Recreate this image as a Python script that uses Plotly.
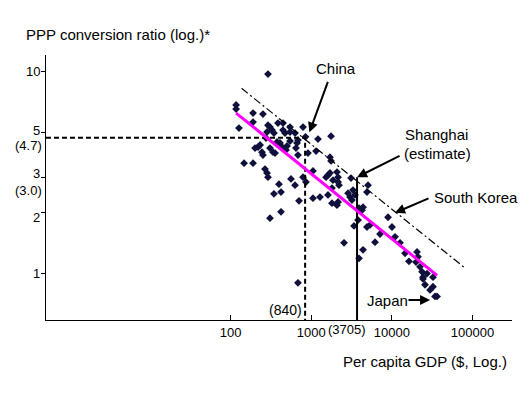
import math
import plotly.graph_objects as go

# ---- data ----
gdp = [117, 117, 190, 252, 127, 190, 291, 308, 387, 447, 546, 791, 447, 473, 546, 283, 327, 345, 630, 275,
       377, 410, 546, 685, 501, 667, 850, 1214, 1762, 201, 219, 232, 245, 252, 308, 336, 356, 410, 447, 486,
       647, 685, 912, 1148, 1710, 1762, 147, 190, 267, 283, 291, 561, 630, 398, 345, 422, 706, 308, 422, 685,
       791, 861, 1052, 1528, 1615, 1710, 2089, 2153, 2153, 2213, 1862, 1811, 1615, 1052, 1285, 1811, 2089, 2153,
       2864, 3030, 3206, 3300, 3491, 3119, 5070, 4920, 4395, 4266, 3917, 3397, 3811, 4920, 5370, 2553, 4395,
       3917, 6194, 7145, 8974, 10050, 10960, 12650, 14590, 16330, 20560, 21130, 19950, 22390, 23710, 24380,
       24380, 27350, 32430, 25820, 29790, 32430, 34360, 36390, 291]
ppp = [6.83, 6.52, 6.23, 6.16, 5.25, 5.62, 5.43, 5.31, 5.56, 5.56, 5.31, 5.31, 5.13, 4.96, 5.02, 5.02, 5.13,
       4.96, 4.96, 4.69, 4.48, 4.43, 4.53, 4.58, 4.28, 4.43, 4.75, 4.63, 4.79, 4.18, 4.23, 4.33, 3.99, 3.86,
       4.18, 3.99, 3.95, 4.33, 4.18, 4.09, 4.18, 3.86, 3.95, 4.04, 3.77, 3.61, 3.52, 3.52, 3.29, 3.15, 3.00,
       2.94, 2.74, 2.77, 2.48, 2.53, 2.29, 1.88, 2.02, 0.90, 3.00, 2.84, 3.22, 3.00, 3.07, 3.15, 3.18, 3.00,
       2.84, 2.74, 2.90, 2.65, 2.45, 2.36, 2.39, 2.23, 2.18, 2.26, 2.50, 2.39, 2.31, 2.59, 2.45, 2.97, 2.74,
       2.53, 2.13, 2.06, 2.11, 1.72, 1.84, 1.70, 1.74, 1.42, 1.31, 1.19, 1.43, 1.57, 1.90, 1.70, 1.52, 1.42,
       1.26, 1.15, 1.28, 1.21, 1.14, 1.08, 1.02, 0.96, 0.94, 1.00, 0.96, 0.88, 0.83, 0.86, 0.77, 0.77, 9.72]

fit_x = [117, 36400]
fit_y = [6.23, 0.98]
upper_x = [137, 80900]
upper_y = [8.26, 1.065]

china_gdp, china_ppp = 840, 4.7
shanghai_gdp, shanghai_ppp = 3705, 3.0

x_tickvals = [100, 1000, 10000, 100000]
x_ticktext = ["100", "1000", "10000", "100000"]
y_tickvals = [1, 2, 3, 5, 10]
y_ticktext = ["1", "2", "3", "5", "10"]
# label nudges (px) as drawn in the reference, relative to each tick
y_label_shift = [0, -5, 4, 2, 0]

X_RANGE = [-0.290, 5.491]
Y_RANGE = [-0.230, 1.082]
xmin = 10 ** X_RANGE[0]
ymin = 10 ** Y_RANGE[0]

FONT = "Liberation Sans, Arial, sans-serif"

fig = go.Figure()

fig.add_trace(go.Scatter(x=gdp, y=ppp, mode="markers",
                         marker=dict(symbol="diamond", size=6, color="#10103c"),
                         hoverinfo="skip"))

# China guide (dashed)
fig.add_trace(go.Scatter(x=[xmin, china_gdp, china_gdp], y=[china_ppp, china_ppp, ymin],
                         mode="lines", line=dict(color="black", width=2, dash="5px,3px")))
# Shanghai guide (solid)
fig.add_trace(go.Scatter(x=[shanghai_gdp, shanghai_gdp], y=[shanghai_ppp, ymin],
                         mode="lines", line=dict(color="black", width=2)))
# upper dash-dot line
fig.add_trace(go.Scatter(x=upper_x, y=upper_y, mode="lines",
                         line=dict(color="black", width=1.2, dash="8px,3px,2px,3px")))
# regression line
fig.add_trace(go.Scatter(x=fit_x, y=fit_y, mode="lines",
                         line=dict(color="#ff00ff", width=3)))

def px_to_paper(px, py):
    return (px - 46) / 466.0, (320 - py) / 265.0

annotations = []

def text_ann(txt, px, py, anchor="left", size=15):
    x, y = px_to_paper(px, py)
    annotations.append(dict(text=txt, x=x, y=y, xref="paper", yref="paper", showarrow=False,
                            xanchor=anchor, yanchor="middle",
                            font=dict(family=FONT, size=size, color="black")))

text_ann("PPP conversion ratio (log.)*", 24, 34)
text_ann("Per capita GDP ($, Log.)", 341, 361)
text_ann("China", 336, 68, anchor="center")
text_ann("Shanghai", 403, 134)
text_ann("(estimate)", 402, 153)
text_ann("South Korea", 432, 197)
text_ann("Japan", 365, 300)
text_ann("(840)", 304, 310, anchor="right", size=14)
text_ann("(3705)", 347, 329, anchor="center", size=13)

# y tick labels as text next to each tick
for v, t, s in zip(y_tickvals, y_ticktext, y_label_shift):
    annotations.append(dict(text=t, x=0, y=math.log10(v), xref="paper", yref="y",
                            xanchor="right", yanchor="middle", xshift=-4, yshift=s, showarrow=False,
                            font=dict(family=FONT, size=13, color="black")))

# y side labels for guide values
annotations.append(dict(text="(4.7)", x=0, y=math.log10(china_ppp), xref="paper", yref="y",
                        xanchor="right", yanchor="middle", xshift=-2, yshift=-8, showarrow=False,
                        font=dict(family=FONT, size=13, color="black")))
annotations.append(dict(text="(3.0)", x=0, y=math.log10(shanghai_ppp), xref="paper", yref="y",
                        xanchor="right", yanchor="middle", xshift=-2, yshift=-13, showarrow=False,
                        font=dict(family=FONT, size=13, color="black")))

def arrow(hx, hy, ax, ay):
    annotations.append(dict(text="", x=math.log10(hx), y=math.log10(hy), xref="x", yref="y",
                            showarrow=True, arrowhead=2, arrowsize=1, arrowwidth=2,
                            arrowcolor="black", ax=ax, ay=ay, standoff=0))

arrow(950, 5.0, 19, -52)      # China
arrow(shanghai_gdp, shanghai_ppp, 44, -22)   # Shanghai
arrow(10960, 2.0, 35, -15)    # South Korea
arrow(29800, 0.74, -23, 0)    # Japan

fig.update_layout(
    width=530, height=397,
    margin=dict(l=46, r=18, t=55, b=77, autoexpand=False),
    paper_bgcolor="white", plot_bgcolor="white",
    showlegend=False,
    font=dict(family=FONT, size=13, color="black"),
    annotations=annotations,
    xaxis=dict(type="log", range=X_RANGE, tickvals=x_tickvals, ticktext=x_ticktext,
               showgrid=False, zeroline=False, showline=True, linecolor="black", linewidth=1,
               ticks="inside", ticklen=5, tickcolor="black", tickfont=dict(size=13)),
    yaxis=dict(type="log", range=Y_RANGE, tickvals=y_tickvals, showticklabels=False,
               showgrid=False, zeroline=False, showline=True, linecolor="black", linewidth=1,
               ticks="outside", ticklen=4, tickcolor="black"),
)

fig.write_html("out.html", config={"displayModeBar": False, "staticPlot": True},
               post_script="document.body.style.margin='0';document.body.style.padding='0';")
